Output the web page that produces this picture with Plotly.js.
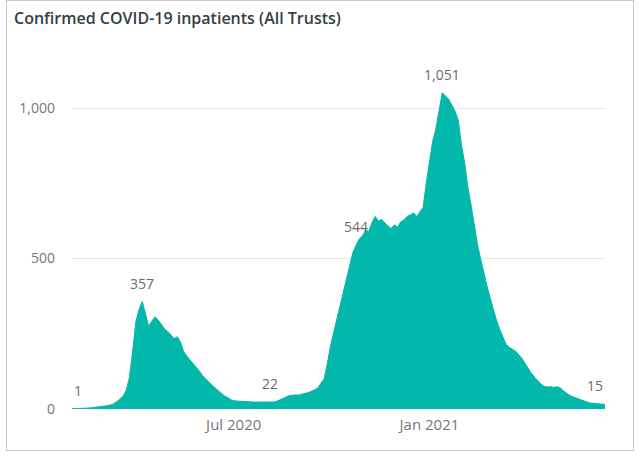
<!DOCTYPE html>
<html>
<head>
<meta charset="utf-8">
<script src="https://cdn.plot.ly/plotly-3.0.1.min.js"></script>
<style>
  html, body { margin: 0; padding: 0; background: #ffffff; }
  #card { position: absolute; left: 6px; top: 0px; width: 628px; height: 451px; border: 1px solid #c8c8c8; box-sizing: border-box; }
  #chart { position: absolute; left: 0; top: 0; width: 639px; height: 454px; }
</style>
</head>
<body>
<div id="card"></div>
<div id="chart"></div>
<script>
// ---- data ----
const startDate = '2020-01-31';
const stepDays = 3;

const inpatients = [
  1, 1, 2, 2, 3, 3, 4, 5, 6, 7,
  9, 11, 13, 17, 24, 32, 42, 62, 105, 190,
  290, 330, 357, 318, 275, 292, 306, 296, 282, 266,
  258, 245, 234, 240, 222, 190, 175, 162, 150, 138,
  125, 110, 98, 88, 78, 68, 58, 50, 42, 35,
  30, 27, 26, 25, 24, 24, 23, 23, 23, 23,
  23, 22, 22, 23, 25, 30, 35, 40, 44, 45,
  47, 46, 50, 52, 54, 58, 64, 70, 86, 100,
  150, 210, 255, 300, 340, 380, 430, 480, 520, 544,
  565, 575, 595, 590, 620, 640, 625, 630, 618, 608,
  600, 612, 604, 622, 628, 640, 645, 652, 640, 655,
  670, 750, 820, 890, 930, 990, 1051, 1040, 1030, 1010,
  990, 960, 880, 820, 740, 680, 610, 550, 500, 450,
  410, 370, 330, 295, 265, 240, 215, 205, 198, 192,
  180, 168, 150, 132, 118, 105, 93, 82, 75, 73,
  74, 72, 74, 70, 60, 52, 45, 40, 36, 31,
  27, 23, 21, 19, 18, 17, 16, 15
];

const labelIdx = [0, 22, 62, 89, 116, 167];
const xTickVals = ['2020-07-01', '2021-01-01'];
const xTickText = ['Jul 2020', 'Jan 2021'];
const yTickVals = [0, 500, 1000];
const yTickText = ['0', '500', '1,000'];
const titleText = 'Confirmed COVID-19 inpatients (All Trusts)';

// ---- build dates ----
function addDays(iso, n) {
  const d = new Date(iso + 'T00:00:00Z');
  d.setUTCDate(d.getUTCDate() + n);
  return d.toISOString().slice(0, 10);
}
const dates = inpatients.map((_, i) => addDays(startDate, i * stepDays));

const teal = '#01B8AA';
const fontFam = '"Open Sans", "Noto Sans", sans-serif';
const fmt = v => v.toLocaleString('en-US');

const trace = {
  type: 'scatter',
  mode: 'lines',
  x: dates,
  y: inpatients,
  fill: 'tozeroy',
  fillcolor: teal,
  line: { color: teal, width: 1 },
  hoverinfo: 'skip'
};

const annotations = labelIdx.map((i, k) => ({
  x: dates[i],
  y: inpatients[i],
  xref: 'x', yref: 'y',
  text: fmt(inpatients[i]),
  showarrow: false,
  xanchor: k === 0 ? 'left' : (k === labelIdx.length - 1 ? 'right' : 'center'),
  yanchor: 'bottom',
  yshift: 7,
  font: { family: fontFam, size: 14, color: '#6b6b6b' }
}));

const layout = {
  width: 639,
  height: 454,
  margin: { l: 72, r: 34, t: 63, b: 45, pad: 0 },
  paper_bgcolor: 'rgba(0,0,0,0)',
  plot_bgcolor: 'rgba(0,0,0,0)',
  showlegend: false,
  title: {
    text: titleText,
    x: 14 / 639, xref: 'container', xanchor: 'left',
    y: 1 - 18 / 454, yref: 'container', yanchor: 'middle',
    font: { family: fontFam, size: 16, weight: 600, color: '#33403f' }
  },
  xaxis: {
    type: 'date',
    range: [dates[0], dates[dates.length - 1]],
    tickvals: xTickVals,
    ticktext: xTickText,
    showgrid: false,
    zeroline: false,
    showline: false,
    ticks: '',
    ticklabelstandoff: 5,
    tickfont: { family: fontFam, size: 15, color: '#777777' }
  },
  yaxis: {
    range: [0, 1150],
    tickvals: yTickVals,
    ticktext: yTickText,
    showgrid: true,
    gridcolor: '#e6e6e6',
    gridwidth: 1,
    zeroline: false,
    showline: false,
    ticks: '',
    ticklabelstandoff: 16,
    tickfont: { family: fontFam, size: 14, color: '#777777' }
  },
  annotations: annotations
};

Plotly.newPlot('chart', [trace], layout, { displayModeBar: false, staticPlot: true });
</script>
</body>
</html>
